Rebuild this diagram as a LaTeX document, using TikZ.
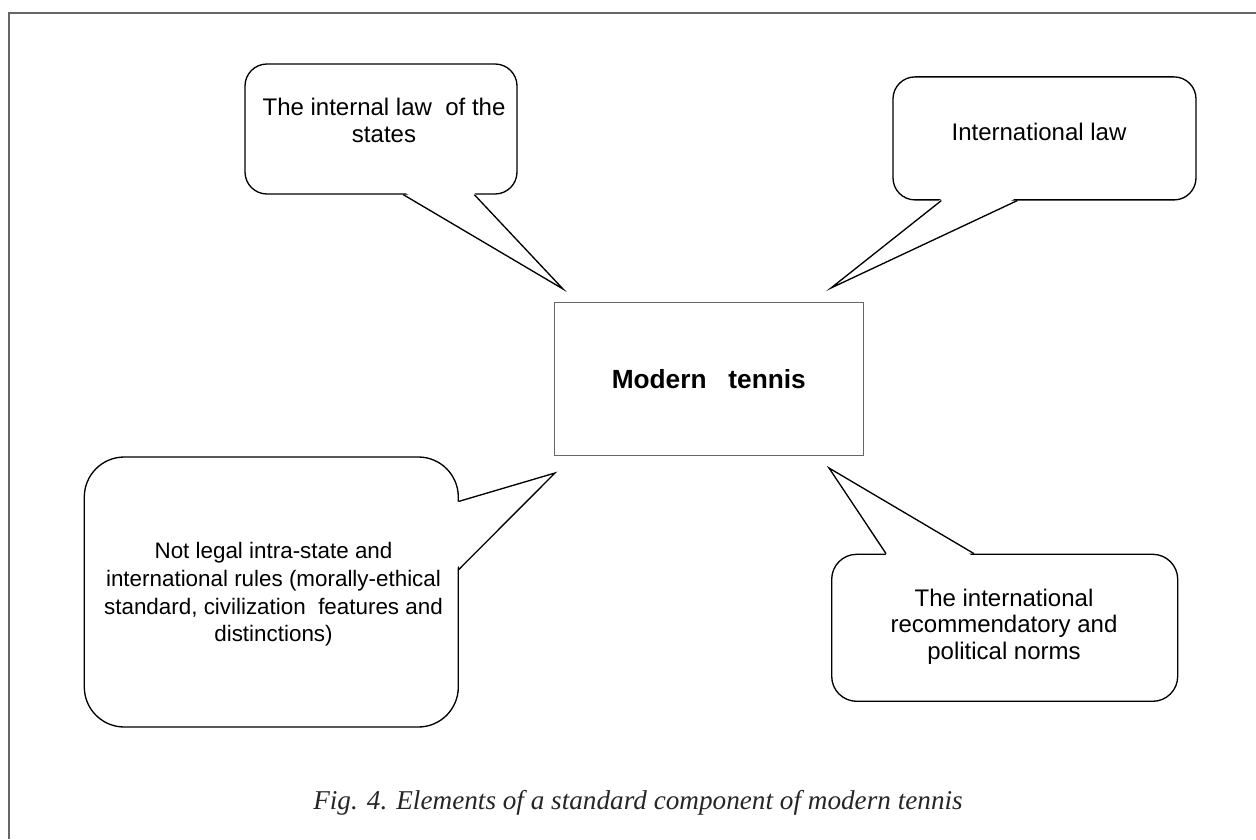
\documentclass[tikz,border=0pt]{standalone}
\usepackage{fontspec}
\setmainfont{Liberation Sans}
\newfontfamily\capfont{Liberation Serif}
\usetikzlibrary{calc}
\tikzset{
  bubble/.style={draw=black, line width=1pt, fill=white, inner sep=0pt},
  bubtext/.style={align=center, inner sep=0pt, font=\fontsize{18}{20.25}\selectfont},
  tailfill/.style={fill=white, draw=none},
  tailline/.style={draw=black, line width=1pt, line join=miter},
  mainbox/.style={draw=black!60, line width=0.8pt, fill=white, inner sep=0pt,
    font=\bfseries\fontsize{19.7}{22}\selectfont},
  framestyle/.style={draw=black!60, line width=1.5pt},
}
\begin{document}
\begin{tikzpicture}[x=0.75pt, y=-0.75pt]
\useasboundingbox (0,0) rectangle (1256,839);
% frame (top and left edges)
\coordinate (fbl) at (9,839);
\coordinate (ftl) at (9,13);
\coordinate (ftr) at (1256,13);
\draw[framestyle] (fbl) -- (ftl) -- (ftr);

% central box
\node[mainbox, minimum width=231.75pt, minimum height=114.75pt] (m) at (708.8,379.2) {Modern\ \ \ tennis};

% callout boxes
\node[bubble, rounded corners=16.5pt, minimum width=204pt, minimum height=97.5pt] (c1) at (381,129) {};
\node[bubble, rounded corners=16.5pt, minimum width=227.25pt, minimum height=92.25pt] (c2) at (1044.5,138.4) {};
\node[bubble, rounded corners=30pt, minimum width=280.5pt, minimum height=202.5pt] (c3) at (271.3,592) {};
\node[bubble, rounded corners=18.75pt, minimum width=259.5pt, minimum height=110.25pt] (c4) at (1004.7,627.8) {};

% tails
\coordinate (t1a) at ($(c1.south west)+(159,0)$);
\coordinate (t1b) at ($(c1.south west)+(230,0)$);
\coordinate (t1) at (563,289);
\fill[tailfill] ($(t1a)+(1,-2.5)$) -- (t1) -- ($(t1b)+(-1,-2.5)$) -- cycle;
\draw[tailline] (t1a) -- (t1) -- (t1b);

\coordinate (t2a) at ($(c2.south west)+(49,0)$);
\coordinate (t2b) at ($(c2.south west)+(125,0)$);
\coordinate (t2) at (831,288);
\fill[tailfill] ($(t2a)+(1,-2.5)$) -- (t2) -- ($(t2b)+(-1,-2.5)$) -- cycle;
\draw[tailline] (t2a) -- (t2) -- (t2b);

\coordinate (t3a) at ($(c3.north east)+(0,45)$);
\coordinate (t3b) at ($(c3.north east)+(0,113)$);
\coordinate (t3) at (555,473);
\fill[tailfill] ($(t3a)+(-2.5,1)$) -- (t3) -- ($(t3b)+(-2.5,-1)$) -- cycle;
\draw[tailline] (t3a) -- (t3) -- (t3b);

\coordinate (t4a) at ($(c4.north west)+(55,0)$);
\coordinate (t4b) at ($(c4.north west)+(143,0)$);
\coordinate (t4) at (829,468);
\fill[tailfill] ($(t4a)+(1,2.5)$) -- (t4) -- ($(t4b)+(-1,2.5)$) -- cycle;
\draw[tailline] (t4a) -- (t4) -- (t4b);

% callout texts
\node[bubtext] (c1t) at (384,120) {The internal law\ \ of the\\states};
\node[bubtext] (c2t) at (1039,131.7) {International law};
\node[bubtext, font=\fontsize{16.8}{20.8}\selectfont] (c3t) at (273.5,594.5) {Not legal intra-state and\\international rules (morally-ethical\\standard, civilization\ \ features and\\distinctions)};
\node[bubtext, font=\fontsize{18}{20}\selectfont] (c4t) at (1004,626.7) {The international\\recommendatory and\\political norms};

% caption
\node[inner sep=0pt, font=\capfont\itshape\fontsize{20.4}{24}\selectfont, text=black!85] (cap) at (638,803) {Fig. 4. Elements of a standard component of modern tennis};
\end{tikzpicture}
\end{document}
